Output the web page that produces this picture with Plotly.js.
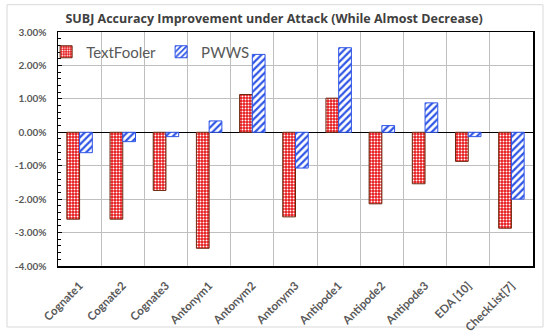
<!DOCTYPE html>
<html>
<head>
<meta charset="utf-8">
<script src="https://cdn.plot.ly/plotly-3.0.1.min.js"></script>
<style>
html,body{margin:0;padding:0;background:#fff;}
#chart{width:550px;height:334px;}
</style>
</head>
<body>
<div id="chart"></div>
<script>
const categories = ["Cognate1","Cognate2","Cognate3","Antonym1","Antonym2","Antonym3","Antipode1","Antipode2","Antipode3","EDA [10]","CheckList[7]"];
const textFooler = [-2.60, -2.60, -1.74, -3.47, 1.13, -2.53, 1.02, -2.14, -1.54, -0.87, -2.87];
const pwws = [-0.61, -0.28, -0.13, 0.34, 2.33, -1.07, 2.53, 0.20, 0.88, -0.13, -2.00];
const yTickVals = [3, 2, 1, 0, -1, -2, -3, -4];
const yTickText = ["3.00%", "2.00%", "1.00%", "0.00%", "-1.00%", "-2.00%", "-3.00%", "-4.00%"];
const titleText = "SUBJ Accuracy Improvement under Attack (While Almost Decrease)";

const traces = [
  {
    type: "bar", name: "TextFooler", x: categories, y: textFooler,
    marker: {
      color: "#e8171b",
      line: {color: "#6b2a10", width: 1},
      pattern: {shape: ".", fgcolor: "#ffffff", bgcolor: "#e8171b", size: 3, solidity: 0.35, fillmode: "replace"}
    },
    hoverinfo: "skip"
  },
  {
    type: "bar", name: "PWWS", x: categories, y: pwws,
    marker: {
      color: "#ffffff",
      line: {color: "#2f55e6", width: 1},
      pattern: {shape: "/", fgcolor: "#2f55e6", bgcolor: "#ffffff", size: 5, solidity: 0.45, fillmode: "replace"}
    },
    hoverinfo: "skip"
  }
];

const layout = {
  width: 550, height: 334,
  margin: {l: 58, r: 17, t: 32, b: 68, pad: 0},
  paper_bgcolor: "#ffffff", plot_bgcolor: "#ffffff",
  font: {family: "Lato, 'Open Sans', sans-serif", color: "#595959"},
  title: {
    text: "<b>" + titleText + "</b>",
    font: {family: "'Open Sans', sans-serif", size: 12.5, color: "#404040"},
    xref: "paper", x: 0.455, xanchor: "center",
    yref: "container", y: 0.945, yanchor: "middle"
  },
  barmode: "group", bargap: 0.41, bargroupgap: 0,
  showlegend: true,
  legend: {
    orientation: "h", x: -0.025, xanchor: "left", y: 0.985, yanchor: "top",
    bgcolor: "rgba(0,0,0,0)", font: {size: 15, color: "#595959"},
    itemwidth: 30, tracegroupgap: 0
  },
  xaxis: {
    type: "category", tickson: "boundaries",
    showgrid: true, gridcolor: "#bfbfbf", gridwidth: 1,
    showline: true, linecolor: "#000000", linewidth: 1.5, mirror: true,
    ticks: "", tickangle: -45, ticklabelstandoff: 7,
    tickfont: {size: 11.5, color: "#595959", family: "Lato, 'Open Sans', sans-serif", weight: "bold"}
  },
  yaxis: {
    range: [-4, 3], tickvals: yTickVals, ticktext: yTickText,
    showgrid: true, gridcolor: "#bfbfbf", gridwidth: 1,
    zeroline: true, zerolinecolor: "#000000", zerolinewidth: 1.5,
    showline: true, linecolor: "#000000", linewidth: 1.5, mirror: true,
    ticks: "inside", ticklen: 4, tickcolor: "#000000", tickwidth: 1,
    minor: {dtick: 0.2, ticks: "inside", ticklen: 3, tickcolor: "#000000", tickwidth: 1, showgrid: false},
    ticklabelstandoff: 8,
    tickfont: {size: 10, color: "#595959", family: "Lato, 'Open Sans', sans-serif", weight: "bold"}
  },
  shapes: [{
    type: "rect", xref: "paper", yref: "paper",
    x0: -0.1074, x1: 1.0211, y0: -0.2607, y1: 1.1167,
    line: {color: "#d9d9d9", width: 1}, fillcolor: "rgba(0,0,0,0)", layer: "below"
  }]
};

Plotly.newPlot("chart", traces, layout, {staticPlot: true, displayModeBar: false});
</script>
</body>
</html>
